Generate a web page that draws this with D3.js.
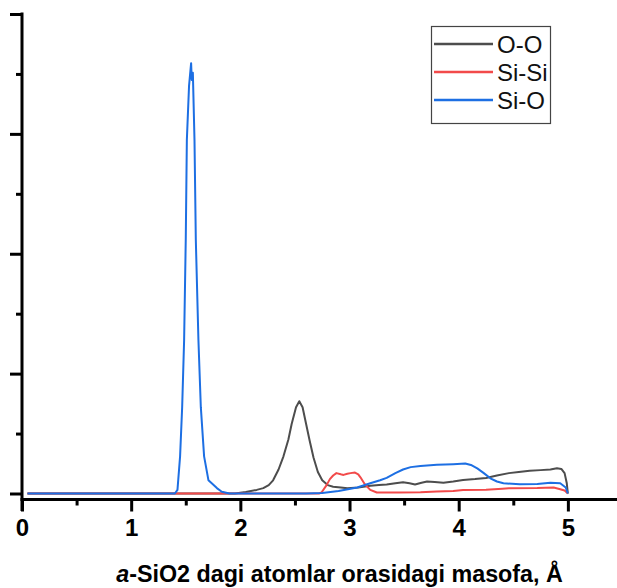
<!DOCTYPE html>
<html>
<head>
<meta charset="utf-8">
<script src="https://cdn.jsdelivr.net/npm/d3@7"></script>
<style>
  body { margin: 0; background: #fff; }
  svg text { font-family: "Liberation Sans", Arial, sans-serif; }
</style>
</head>
<body>
<div id="graph_plot"></div>
<script>
// series values [distance Å, g(r)]
const seriesNames = ["O-O", "Si-Si", "Si-O"];
const seriesColors = ["#4d4d4d", "#f24a4a", "#1d6fe3"];

const ooData = [[0.05,0],[1.95,0],[2.05,0.012],[2.15,0.03],[2.21,0.045],[2.26,0.07],[2.30,0.11],[2.35,0.2],
  [2.395,0.31],[2.44,0.45],[2.47,0.58],[2.51,0.72],[2.54,0.77],[2.57,0.72],[2.60,0.59],[2.635,0.44],
  [2.67,0.30],[2.71,0.18],[2.75,0.11],[2.80,0.07],[2.85,0.057],[2.92,0.05],[2.98,0.043],[3.08,0.05],
  [3.19,0.065],[3.27,0.07],[3.34,0.075],[3.42,0.085],[3.49,0.093],[3.55,0.085],[3.60,0.075],[3.66,0.09],
  [3.71,0.1],[3.78,0.095],[3.86,0.09],[3.95,0.1],[4.04,0.113],[4.15,0.12],[4.25,0.13],[4.35,0.15],
  [4.46,0.17],[4.55,0.18],[4.65,0.19],[4.75,0.195],[4.84,0.2],[4.90,0.21],[4.94,0.205],[4.97,0.17],
  [4.99,0.085],[5.0,0]];

const sisiData = [[0.05,0],[2.72,0],[2.745,0.01],[2.79,0.07],[2.82,0.12],[2.85,0.15],[2.88,0.17],[2.92,0.16],
  [2.945,0.155],[2.98,0.165],[3.01,0.17],[3.05,0.175],[3.08,0.16],[3.10,0.135],[3.14,0.077],[3.19,0.03],
  [3.25,0.008],[3.45,0.008],[3.65,0.01],[3.80,0.016],[3.95,0.02],[4.04,0.03],[4.25,0.032],[4.40,0.04],
  [4.46,0.043],[4.72,0.045],[4.87,0.05],[4.93,0.035],[4.97,0.025],[5.0,0]];

const sioData = [[0.05,0],[1.40,0],[1.424,0.03],[1.448,0.31],[1.467,0.72],[1.485,1.28],[1.50,2.12],[1.51,2.95],
  [1.53,3.4],[1.549,3.59],[1.555,3.45],[1.565,3.51],[1.58,2.95],[1.592,2.12],[1.616,1.28],[1.638,0.72],
  [1.668,0.31],[1.708,0.11],[1.785,0.045],[1.83,0.015],[1.90,0],[2.6,0],[2.75,0.005],[2.90,0.02],
  [3.07,0.05],[3.19,0.085],[3.28,0.11],[3.34,0.13],[3.42,0.17],[3.49,0.2],[3.56,0.22],[3.65,0.23],
  [3.80,0.24],[3.95,0.245],[4.06,0.25],[4.12,0.235],[4.17,0.21],[4.23,0.17],[4.29,0.127],[4.35,0.1],
  [4.41,0.085],[4.56,0.077],[4.72,0.08],[4.84,0.09],[4.93,0.085],[4.98,0.05],[5.0,0]];

const xTicks = [0, 1, 2, 3, 4, 5];
const xMinorTicks = [0.5, 1.5, 2.5, 3.5, 4.5];
const yTicks = [0, 1, 2, 3, 4];
const yMinorTicks = [0.5, 1.5, 2.5, 3.5];

const width = 617, height = 588;

const svg = d3.select("#graph_plot").append("svg")
    .attr("width", width)
    .attr("height", height);

// scales
var x = d3.scaleLinear().domain([0, 5.45]).range([22, 617]);
var y = d3.scaleLinear().domain([0, 4]).range([493.5, 14]);
const axisY = 499.5;

// x axis
const gx = svg.append("g").attr("transform", `translate(0, ${axisY})`);
gx.append("g")
  .call(d3.axisBottom(x).tickValues(xMinorTicks).tickSize(6).tickFormat("").tickSizeOuter(0))
  .call(g => g.select(".domain").remove());
gx.append("g")
  .call(d3.axisBottom(x).tickValues(xTicks).tickSize(12).tickPadding(7).tickSizeOuter(0)
        .tickFormat(d3.format("d")))
  .call(g => g.select(".domain").remove())
  .call(g => g.selectAll("text").attr("font-size", 24).attr("font-weight", "bold")
        .attr("fill", "#000").style("font-family", "'Liberation Sans', Arial, sans-serif"));
gx.selectAll(".tick line").attr("stroke", "#000").attr("stroke-width", 3);
gx.append("line").attr("x1", 20.5).attr("x2", 617).attr("y1", 0).attr("y2", 0)
  .attr("stroke", "#000").attr("stroke-width", 3);

// y axis (no labels)
const gy = svg.append("g").attr("transform", "translate(22, 0)");
gy.append("g")
  .call(d3.axisLeft(y).tickValues(yMinorTicks).tickSize(6).tickFormat("").tickSizeOuter(0))
  .call(g => g.select(".domain").remove());
gy.append("g")
  .call(d3.axisLeft(y).tickValues(yTicks).tickSize(12).tickFormat("").tickSizeOuter(0))
  .call(g => g.select(".domain").remove());
gy.selectAll(".tick line").attr("stroke", "#000").attr("stroke-width", 3);
gy.append("line").attr("x1", 0).attr("x2", 0).attr("y1", 12.5).attr("y2", 511)
  .attr("stroke", "#000").attr("stroke-width", 3);

// lines
var valueLine = d3.line()
  .x(d => x(d[0]))
  .y(d => y(d[1]));

[ooData, sisiData, sioData].forEach((data, i) => {
  svg.append("path")
    .datum(data)
    .attr("fill", "none")
    .attr("stroke", seriesColors[i])
    .attr("stroke-width", 2)
    .attr("stroke-linejoin", "round")
    .attr("d", valueLine);
});

// legend
const lg = svg.append("g");
lg.append("rect").attr("x", 431.5).attr("y", 26.5).attr("width", 119).attr("height", 97)
  .attr("fill", "#fff").attr("stroke", "#444").attr("stroke-width", 1.2);
seriesNames.forEach((name, i) => {
  const ly = 44 + i * 28;
  lg.append("line").attr("x1", 434).attr("x2", 493).attr("y1", ly).attr("y2", ly)
    .attr("stroke", seriesColors[i]).attr("stroke-width", 2.5);
  lg.append("text").attr("x", 497).attr("y", ly + 8.5)
    .attr("font-size", 24).attr("fill", "#111").text(name);
});

// x axis title
const title = svg.append("text")
  .attr("x", 339.5).attr("y", 582)
  .attr("text-anchor", "middle")
  .attr("font-size", 23.3).attr("font-weight", "bold").attr("fill", "#000");
title.append("tspan").attr("font-style", "italic").text("a");
title.append("tspan").text("-SiO2 dagi atomlar orasidagi masofa, Å");
</script>
</body>
</html>
